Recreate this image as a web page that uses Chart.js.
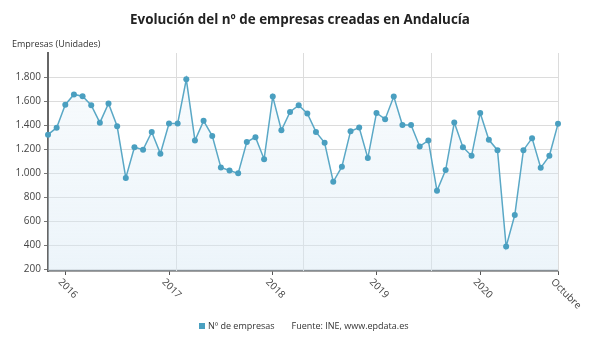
<!DOCTYPE html>
<html lang="es">
<head>
  <meta charset="UTF-8">
  <title>Evolución del nº de empresas creadas en Andalucía</title>
  <script src="https://cdn.jsdelivr.net/npm/chart.js"></script>
  <style>
    body {
      margin: 0;
      padding: 0;
      background: #fff;
      font-family: "Open Sans", sans-serif;
    }
    #wrap {
      position: relative;
      width: 600px;
      height: 346px;
    }
    h1 {
      position: absolute;
      top: 10px;
      left: 0;
      width: 600px;
      margin: 0;
      text-align: center;
      font-size: 13.4px;
      font-weight: bold;
      color: #222;
    }
    .ytitle {
      position: absolute;
      left: 12px;
      top: 37px;
      font-size: 9px;
      color: #333;
    }
    .legend {
      position: absolute;
      top: 319px;
      left: 199px;
      font-size: 9px;
      color: #333;
      white-space: nowrap;
    }
    .legend .box {
      display: inline-block;
      width: 6px;
      height: 6px;
      background: #4aa0c0;
      margin-right: 3px;
    }
    .legend .src {
      margin-left: 17px;
    }
  </style>
</head>
<body>

<div id="wrap">
  <canvas id="chart" width="600" height="346"></canvas>
  <h1>Evolución del nº de empresas creadas en Andalucía</h1>
  <div class="ytitle">Empresas (Unidades)</div>
  <div class="legend"><span class="box"></span>Nº de empresas<span class="src">Fuente: INE, www.epdata.es</span></div>
</div>

<script>
  // noviembre 2015 - octubre 2020
  const months = [
    'nov 2015', 'dic 2015',
    'ene 2016', 'feb 2016', 'mar 2016', 'abr 2016', 'may 2016', 'jun 2016', 'jul 2016', 'ago 2016', 'sep 2016', 'oct 2016', 'nov 2016', 'dic 2016',
    'ene 2017', 'feb 2017', 'mar 2017', 'abr 2017', 'may 2017', 'jun 2017', 'jul 2017', 'ago 2017', 'sep 2017', 'oct 2017', 'nov 2017', 'dic 2017',
    'ene 2018', 'feb 2018', 'mar 2018', 'abr 2018', 'may 2018', 'jun 2018', 'jul 2018', 'ago 2018', 'sep 2018', 'oct 2018', 'nov 2018', 'dic 2018',
    'ene 2019', 'feb 2019', 'mar 2019', 'abr 2019', 'may 2019', 'jun 2019', 'jul 2019', 'ago 2019', 'sep 2019', 'oct 2019', 'nov 2019', 'dic 2019',
    'ene 2020', 'feb 2020', 'mar 2020', 'abr 2020', 'may 2020', 'jun 2020', 'jul 2020', 'ago 2020', 'sep 2020', 'oct 2020'
  ];
  const empresas = [
    1320, 1378,
    1570, 1655, 1640, 1565, 1420, 1580, 1390, 960, 1215, 1195,
    1342, 1162, 1413, 1413, 1781, 1272, 1435, 1310, 1047, 1022, 998, 1258,
    1299, 1116, 1637, 1357, 1509, 1565, 1496, 1343, 1252, 928, 1053, 1349,
    1380, 1125, 1501, 1449, 1637, 1401, 1401, 1222, 1272, 853, 1025, 1421,
    1216, 1144, 1501, 1277, 1191, 388, 651, 1191, 1291, 1044, 1144, 1410
  ];
  // etiquetas del eje X (índice -> texto)
  const xLabelIdx = [2, 14, 26, 38, 50, 59];
  const xLabelTxt = ['2016', '2017', '2018', '2019', '2020', 'Octubre'];
  // líneas verticales de la rejilla
  const xGridAt = [14.75, 29.5, 44.25, 59];
  const yTicks = [200, 400, 600, 800, 1000, 1200, 1400, 1600, 1800];

  const fmt = v => String(v).replace(/\B(?=(\d{3})+(?!\d))/g, '.');

  const extras = {
    id: 'extras',
    beforeDatasetsDraw(chart) {
      const { ctx, chartArea, scales } = chart;
      ctx.save();
      ctx.strokeStyle = '#dcdcdc';
      ctx.lineWidth = 1;
      xGridAt.forEach(v => {
        const x = Math.round(scales.x.getPixelForValue(v)) + 0.5;
        ctx.beginPath();
        ctx.moveTo(x, chartArea.top);
        ctx.lineTo(x, chartArea.bottom);
        ctx.stroke();
      });
      ctx.restore();
    },
    afterDraw(chart) {
      const { ctx, chartArea, scales } = chart;
      ctx.save();
      ctx.fillStyle = '#444';
      ctx.font = '10px "Open Sans"';
      ctx.textAlign = 'left';
      ctx.textBaseline = 'top';
      xLabelIdx.forEach((idx, i) => {
        const x = scales.x.getPixelForValue(idx);
        ctx.save();
        ctx.translate(x - 2, chartArea.bottom + 6);
        ctx.rotate(Math.PI / 4);
        ctx.fillText(xLabelTxt[i], 0, 0);
        ctx.restore();
      });
      ctx.restore();
    }
  };

  const ctx = document.getElementById('chart').getContext('2d');
  const grad = ctx.createLinearGradient(0, 53, 0, 271);
  grad.addColorStop(0, 'rgba(214, 232, 244, 0.15)');
  grad.addColorStop(1, 'rgba(214, 232, 244, 0.45)');

  new Chart(ctx, {
    type: 'line',
    data: {
      labels: months,
      datasets: [{
        label: 'Nº de empresas',
        data: empresas,
        borderColor: '#5aa8c6',
        borderWidth: 1.5,
        backgroundColor: grad,
        fill: 'start',
        tension: 0,
        pointRadius: 3,
        pointBackgroundColor: '#4a9fc0',
        pointBorderColor: '#4a9fc0',
        pointBorderWidth: 0
      }]
    },
    options: {
      responsive: false,
      animation: false,
      layout: {
        padding: { left: 0, top: 53, right: 42, bottom: 0 }
      },
      plugins: {
        legend: { display: false },
        tooltip: { enabled: false }
      },
      scales: {
        x: {
          type: 'category',
          offset: false,
          afterFit: s => { s.height = 75; },
          ticks: { display: false, autoSkip: false },
          grid: {
            drawOnChartArea: false,
            tickLength: 4,
            color: c => xLabelIdx.includes(c.index) ? '#555' : 'rgba(0,0,0,0)'
          },
          border: { color: '#444', width: 1.5 }
        },
        y: {
          min: 185,
          max: 2000,
          afterFit: s => { s.width = 48; },
          afterBuildTicks: s => { s.ticks = yTicks.map(v => ({ value: v })); },
          ticks: {
            padding: 3,
            color: '#444',
            font: { family: 'Open Sans', size: 10 },
            callback: v => fmt(v)
          },
          grid: {
            color: '#dcdcdc',
            tickLength: 4,
            tickColor: '#777'
          },
          border: { color: '#666', width: 2 }
        }
      }
    },
    plugins: [extras]
  });
</script>

</body>
</html>
